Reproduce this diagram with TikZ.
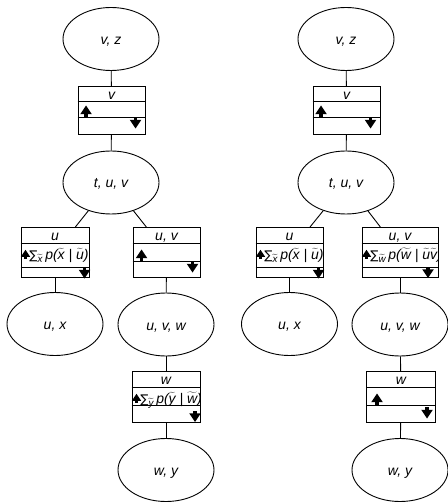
\documentclass[tikz,border=0pt]{standalone}
\usepackage{fontspec}
\setmainfont{Liberation Sans}
\newfontfamily\symfont{DejaVu Sans}
\usetikzlibrary{shapes.geometric}

% tilde over a text letter
\newcommand\tild[1]{\ensuremath{\widetilde{\mbox{#1}}}}
% summation sign with a tilded index
\newcommand\sumover[1]{{\symfont\upshape\fontsize{12}{14}\selectfont ∑}\textsubscript{\tild{#1}}}

\tikzset{
  every picture/.style={line width=0.9pt},
  clique/.style={ellipse, draw, minimum width=96pt, minimum height=63pt, inner sep=0pt,
    text height=11pt, text depth=0pt, font=\fontsize{14}{16}\selectfont\itshape},
  sepframe/.style={rectangle, draw, inner sep=0pt},
  boxtext/.style={inner sep=0pt, font=\fontsize{14}{16}\selectfont\itshape},
  formula/.style={inner sep=0pt, font=\fontsize{14}{16}\selectfont\itshape},
  link/.style={draw},
  % filled arrows drawn from the end of the stem; explicit pt keeps them upright
  uparrow/.pic={
    \fill (-1.6pt,0pt) rectangle (1.6pt,3pt);
    \fill (-5.8pt,2.8pt) -- (5.8pt,2.8pt) -- (0pt,11.5pt) -- cycle;
  },
  downarrow/.pic={
    \fill (-1.6pt,0pt) rectangle (1.6pt,-3pt);
    \fill (-5.8pt,-2.8pt) -- (5.8pt,-2.8pt) -- (0pt,-11.5pt) -- cycle;
  },
}

% separator box: name, centre x, top y, width, first row, first two rows, total height, label
\newcommand\sepbox[8]{%
  \node[sepframe, minimum width=#4pt, minimum height=#7pt, anchor=north] (#1) at (#2,#3) {};
  \draw ([yshift=-#5pt]#1.north west) -- ([yshift=-#5pt]#1.north east);
  \draw ([yshift=-#6pt]#1.north west) -- ([yshift=-#6pt]#1.north east);
  \node[boxtext, anchor=base] (#1-label) at ([yshift=-13.5pt]#1.north) {#8};
}

\begin{document}
\begin{tikzpicture}[x=1pt, y=-1pt]
\useasboundingbox (0,0) rectangle (447,502);

% ---------------- left junction tree ----------------
\node[clique] (Lvz)  at (111,39)    {v, z};
\sepbox{Lsv}{111.5}{86}{67}{15}{31}{48}{v}
\node[clique] (Ltuv) at (111,182.5) {t, u, v};
\sepbox{Lsu}{55}{227}{68}{16}{40}{50}{u}
\sepbox{Lsuv}{166.5}{227}{67}{16}{34}{50}{u, v}
\node[clique] (Lux)  at (55,324)    {u, x};
\node[clique] (Luvw) at (166,324.5) {u, v, w};
\sepbox{Lsw}{166}{371}{68}{16}{34}{51}{w}
\node[clique] (Lwy)  at (166,470)   {w, y};

\pic at (86,117) {uparrow};
\pic at (135.5,117) {downarrow};

\begin{scope}
  \clip (Lsu.north west) rectangle (Lsu.south east);
  \pic[scale=0.8] at (25.5,259) {uparrow};
  \node[formula, anchor=base west] (Lfu) at (29,259) {\sumover{x}\,p(\tild{x} | \tild{u})};
\end{scope}
\pic at (84.5,267) {downarrow};

\pic at (141.5,261) {uparrow};
\pic at (192.5,261) {downarrow};

\begin{scope}
  \clip (Lsw.north west) rectangle (Lsw.south east);
  \pic[scale=0.8] at (136.5,403) {uparrow};
  \node[formula, anchor=base west] (Lfw) at (140,403) {\sumover{y}\,p(\tild{y} | \tild{w})};
\end{scope}
\pic at (195,410.5) {downarrow};

\draw[link] (Lvz) -- (Lsv);
\draw[link] (Lsv) -- (Ltuv);
\draw[link] (Ltuv) -- (Lsu);
\draw[link] (Ltuv) -- (Lsuv);
\draw[link] (Lsu) -- (Lux);
\draw[link] (Lsuv) -- (Luvw);
\draw[link] (Luvw) -- (Lsw);
\draw[link] (Lsw) -- (Lwy);

% ---------------- right junction tree ----------------
\node[clique] (Rvz)  at (346,39)    {v, z};
\sepbox{Rsv}{346.5}{86}{67}{15}{31}{48}{v}
\node[clique] (Rtuv) at (346,182.5) {t, u, v};
\sepbox{Rsu}{289.5}{227}{67}{16}{40}{50}{u}
\sepbox{Rsuv}{400}{227}{76}{16}{40}{50}{u, v}
\node[clique] (Rux)  at (289.5,324) {u, x};
\node[clique] (Ruvw) at (400,324.5) {u, v, w};
\sepbox{Rsw}{401}{371}{69}{16}{34}{51}{w}
\node[clique] (Rwy)  at (400,470)   {w, y};

\pic at (321,117) {uparrow};
\pic at (370.5,117) {downarrow};

\begin{scope}
  \clip (Rsu.north west) rectangle (Rsu.south east);
  \pic[scale=0.8] at (260.5,259) {uparrow};
  \node[formula, anchor=base west] (Rfu) at (264,259) {\sumover{x}\,p(\tild{x} | \tild{u})};
\end{scope}
\pic at (318.5,267) {downarrow};

\begin{scope}
  \clip (Rsuv.north west) rectangle (Rsuv.south east);
  \pic[scale=0.8] at (366.5,259) {uparrow};
  \node[formula, anchor=base west] (Rfuv) at (370,259) {\sumover{w}\,p(\tild{w} | \tild{u}\tild{v})};
\end{scope}
\pic at (428,266.5) {downarrow};

\pic at (377,405) {uparrow};
\pic at (427,407) {downarrow};

\draw[link] (Rvz) -- (Rsv);
\draw[link] (Rsv) -- (Rtuv);
\draw[link] (Rtuv) -- (Rsu);
\draw[link] (Rtuv) -- (Rsuv);
\draw[link] (Rsu) -- (Rux);
\draw[link] (Rsuv) -- (Ruvw);
\draw[link] (Ruvw) -- (Rsw);
\draw[link] (Rsw) -- (Rwy);
\end{tikzpicture}
\end{document}
